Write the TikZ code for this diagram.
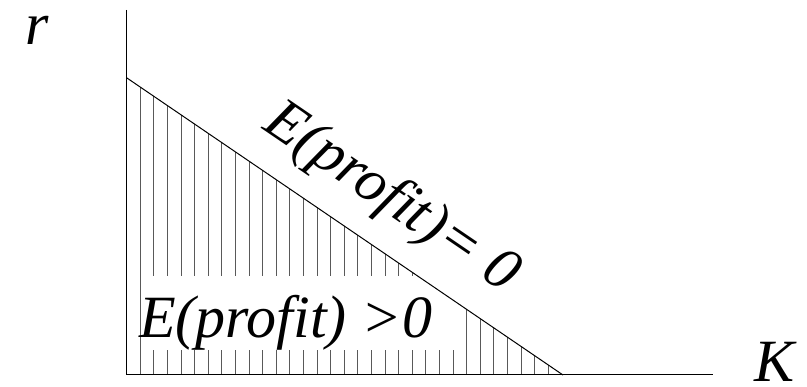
\documentclass[tikz,border=0pt]{standalone}
\usepackage{fontspec}
\setmainfont{Liberation Serif}
\tikzset{
  axis/.style={line width=1pt, black},
  hatch/.style={line width=0.8pt, black!65},
  lbl/.style={inner sep=0pt, font=\fontsize{60}{62}\selectfont\itshape},
}
\begin{document}
\begin{tikzpicture}[x=1pt, y=-1pt]
\useasboundingbox (0,0) rectangle (807,387);
% key points
\coordinate (ytop) at (126.5,10);
\coordinate (yint) at (126.5,77.7);
\coordinate (orig) at (126.5,375);
\coordinate (xint) at (563,375);
\coordinate (xend) at (713,375);
% hatching under the line
\foreach \k in {1,...,31}{
  \pgfmathsetmacro{\hx}{126.5+13.6*\k}
  \pgfmathsetmacro{\hy}{77.7+(\hx-126.5)*0.6811}
  \draw[hatch] (\hx,375) -- (\hx,\hy);
}
% white band behind the lower label
\fill[white] (147,276) rectangle (459,350);
% axes and line
\draw[axis] (ytop) -- (orig) -- (xend);
\draw[axis] (yint) -- (xint);
% labels
\node[lbl, anchor=base west] (pos) at (139,338) {E(profit) >0};
\node[lbl, rotate=-34.26] (zero) at (391,199) {E(profit)= 0};
\node[lbl, anchor=base] (r) at (37,45) {r};
\node[lbl, anchor=base] (k) at (775,382) {K};
\end{tikzpicture}
\end{document}
